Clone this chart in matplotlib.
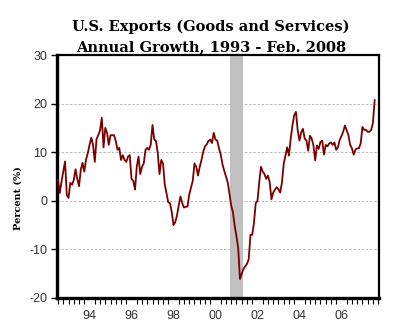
import numpy as np
import matplotlib
matplotlib.use("Agg")
import matplotlib.pyplot as plt

# monthly annual growth (%), Jan 1993 .. Feb 2008
growth_1993 = [4.3, 1.6, 4.0, 6.0, 8.1, 1.2, 0.6, 3.7, 3.3, 4.3, 6.5, 4.5]
growth_1994 = [3.0, 6.4, 7.8, 6.0, 8.5, 9.8, 11.5, 13.0, 11.5, 8.0, 12.7, 13.5]
growth_1995 = [14.5, 17.1, 11.0, 15.0, 14.0, 11.5, 13.5, 13.5, 13.5, 12.3, 10.5, 10.9]
growth_1996 = [8.4, 9.4, 8.4, 8.0, 9.1, 9.4, 4.5, 4.1, 2.3, 7.0, 9.1, 5.5]
growth_1997 = [7.0, 7.7, 10.5, 10.9, 10.5, 11.6, 15.6, 12.6, 12.3, 9.8, 5.5, 8.4]
growth_1998 = [7.7, 3.4, 1.6, -0.3, -0.5, -2.3, -5.0, -4.4, -3.0, -0.9, 0.9, -0.5]
growth_1999 = [-1.4, -1.2, -1.2, 1.3, 2.7, 4.1, 7.7, 7.0, 5.2, 7.0, 8.4, 10.1]
growth_2000 = [11.2, 11.6, 12.3, 12.6, 11.9, 14.0, 12.6, 12.4, 10.8, 9.5, 7.5, 6.2]
growth_2001 = [5.0, 3.8, 1.4, -1.0, -2.4, -5.2, -7.3, -9.8, -16.1, -15.0, -14.0, -13.5]
growth_2002 = [-13.0, -12.0, -7.0, -7.0, -4.5, -0.5, 0.0, 3.8, 7.0, 6.0, 5.5, 4.5]
growth_2003 = [5.2, 3.8, 0.3, 1.7, 2.3, 2.8, 2.4, 1.7, 3.8, 7.6, 9.3, 11.0]
growth_2004 = [9.3, 12.8, 15.5, 17.6, 18.3, 14.5, 12.4, 14.1, 14.8, 12.8, 12.4, 10.3]
growth_2005 = [13.4, 12.8, 11.4, 8.3, 11.4, 10.7, 12.1, 12.4, 9.5, 11.5, 11.2, 11.8]
growth_2006 = [12.0, 11.5, 12.0, 10.5, 11.0, 12.5, 13.3, 14.2, 15.5, 14.5, 13.5, 11.5]
growth_2007 = [10.8, 9.5, 10.5, 10.8, 10.8, 11.8, 15.2, 14.6, 14.6, 14.2, 14.2, 14.6]
growth_2008 = [16.0, 20.7]

growth = (growth_1993 + growth_1994 + growth_1995 + growth_1996 + growth_1997
          + growth_1998 + growth_1999 + growth_2000 + growth_2001 + growth_2002
          + growth_2003 + growth_2004 + growth_2005 + growth_2006 + growth_2007
          + growth_2008)
dates = 1993 + np.arange(len(growth)) / 12.0

recession = (2001.17, 2001.83)   # Mar 2001 - Nov 2001
label_years = [1994, 1996, 1998, 2000, 2002, 2004, 2006]
year_labels = ['94', '96', '98', '00', '02', '04', '06']
y_ticks = [-20, -10, 0, 10, 20, 30]

fig = plt.figure(figsize=(4.0, 3.31), dpi=100)
ax = fig.add_axes([0.1425, 0.0997, 0.805, 0.7341])

ax.axvspan(recession[0], recession[1], color='#c0c0c0', lw=0, zorder=1)
for g in [-10, 0, 10, 20]:
    ax.axhline(g, color='#b0b0b0', lw=0.6, ls=(0, (3, 2)), zorder=0)
ax.plot(dates, growth, color='#7a0000', lw=1.3, zorder=3)

ax.set_xlim(1992.95, 2008.29)
ax.set_ylim(-20, 30)

ax.set_yticks(y_ticks)
ax.set_yticklabels([str(v) for v in y_ticks], fontsize=9, color='#333333',
                   family='Liberation Sans')
ax.tick_params(axis='y', direction='out', length=4, width=1, pad=3)

ax.set_xticks([y + 0.5 for y in label_years])
ax.set_xticklabels(year_labels, fontsize=9, color='#333333', family='Liberation Sans')
ax.set_xticks(np.arange(1993, 2008.3, 0.25), minor=True)
ax.tick_params(axis='x', which='major', length=0, pad=9)
ax.tick_params(axis='x', which='minor', direction='out', length=4, width=0.8)

for side in ['left', 'bottom']:
    ax.spines[side].set_linewidth(2.4)
for side in ['top', 'right']:
    ax.spines[side].set_linewidth(1.6)

fig.text(211 / 400, 1 - 31.5 / 331, 'U.S. Exports (Goods and Services)', ha='center',
         va='baseline', fontsize=10.5, fontweight='bold', family='DejaVu Serif')
fig.text(211 / 400, 1 - 51.5 / 331, 'Annual Growth, 1993 - Feb. 2008', ha='center',
         va='baseline', fontsize=10.5, fontweight='bold', family='DejaVu Serif')
fig.text(18 / 400, 1 - 198 / 331, 'Percent (%)', rotation=90, ha='center', va='center',
         fontsize=7, fontweight='bold', family='DejaVu Serif')

fig.savefig('out.png', dpi=100)
